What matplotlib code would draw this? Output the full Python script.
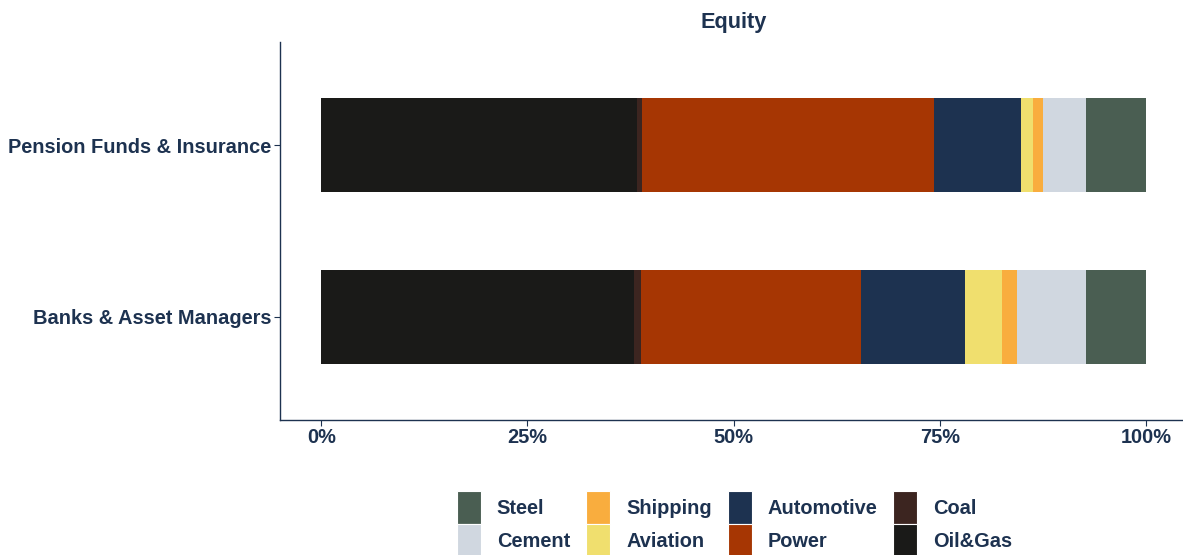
import numpy as np
import matplotlib.pyplot as plt
from matplotlib.patches import Patch

plt.rcParams['font.family'] = ['Liberation Sans', 'DejaVu Sans']

# rows (bottom to top) and sectors in stacking order, left to right
groups = ['Banks & Asset Managers', 'Pension Funds & Insurance']
sectors = ['Oil&Gas', 'Coal', 'Power', 'Automotive', 'Aviation', 'Shipping', 'Cement', 'Steel']
colors = ['#1a1a18', '#3c2520', '#a63603', '#1d3250', '#f0df6e', '#f9ad3e', '#d0d7e0', '#4a5e52']

# share of equity exposure, in %
oil_gas    = [37.9, 38.3]
coal       = [0.9, 0.6]
power      = [26.7, 35.4]
automotive = [12.6, 10.6]
aviation   = [4.5, 1.4]
shipping   = [1.8, 1.2]
cement     = [8.4, 5.3]
steel      = [7.2, 7.2]

shares = [oil_gas, coal, power, automotive, aviation, shipping, cement, steel]

ink = '#1d3250'
fs = 14.4
W, H = 1183, 555
fig = plt.figure(figsize=(W / 100, H / 100), dpi=100)
ax = fig.add_axes([280 / W, 1 - 420 / H, 907 / W, 378 / H])

y = np.arange(1, len(groups) + 1)
left = np.zeros(len(groups))
for name, vals, col in zip(sectors, shares, colors):
    ax.barh(y, vals, left=left, height=0.55, color=col, label=name)
    left += np.array(vals)

ax.set_xlim(-5, 105)
ax.set_ylim(0.4, 2.6)
ax.set_xticks([0, 25, 50, 75, 100])
ax.set_xticklabels(['0%', '25%', '50%', '75%', '100%'])
ax.set_yticks(y)
ax.set_yticklabels(groups)
for lab in ax.get_xticklabels() + ax.get_yticklabels():
    lab.set_fontweight('bold')
    lab.set_fontsize(fs)
    lab.set_color(ink)
ax.tick_params(colors=ink, length=4, width=0.8, pad=2)

for s in ['top', 'right']:
    ax.spines[s].set_visible(False)
for s in ['left', 'bottom']:
    ax.spines[s].set_color(ink)
    ax.spines[s].set_linewidth(1.0)

ax.set_title('Equity', fontsize=15.7, fontweight='bold', color=ink, pad=10)

# legend, reversed stacking order, filled column by column
order = ['Steel', 'Cement', 'Shipping', 'Aviation', 'Automotive', 'Power', 'Coal', 'Oil&Gas']
cmap = dict(zip(sectors, colors))
handles = [Patch(facecolor=cmap[n], edgecolor='white', linewidth=0.8) for n in order]
leg = fig.legend(handles, order, ncol=4, loc='lower center',
                 bbox_to_anchor=(0.621, -0.03), frameon=False,
                 prop={'weight': 'bold', 'size': fs},
                 handlelength=1.2, handleheight=2.2, handletextpad=0.8,
                 columnspacing=0.8, labelspacing=0.0, borderpad=0.2)
for t in leg.get_texts():
    t.set_color(ink)

fig.savefig('out.png', dpi=100)
